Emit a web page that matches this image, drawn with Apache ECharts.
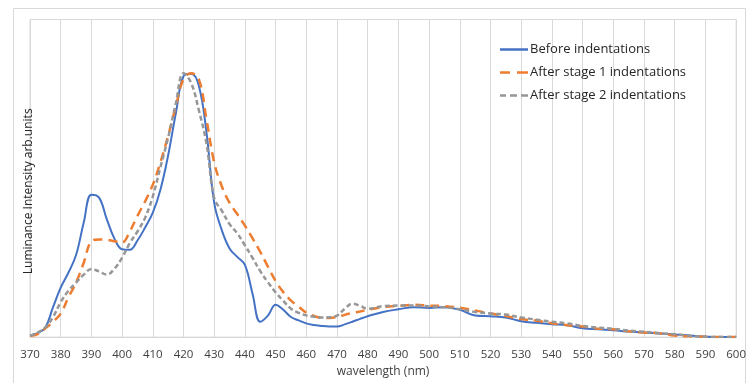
<!DOCTYPE html>
<html>
<head>
<meta charset="utf-8">
<script src="https://cdn.jsdelivr.net/npm/echarts@6/dist/echarts.min.js"></script>
<style>
html,body{margin:0;padding:0;background:#fff;}
#chart{width:749px;height:383px;}
</style>
</head>
<body>
<div id="chart"></div>
<script>
const wavelengths = [370,372.5,375,377.5,380,382.5,385,387.5,390,392.5,395,397.5,400,402.5,405,407.5,410,412.5,415,417.5,420,422.5,425,427.5,430,432.5,435,437.5,440,442.5,445,447.5,450,452.5,455,457.5,460,462.5,465,467.5,470,472.5,475,477.5,480,485,490,495,500,505,510,515,520,525,530,535,540,545,550,555,560,565,570,575,580,585,590,595,600];

const beforeIndent = [0.005,0.015,0.036,0.113,0.187,0.243,0.310,0.433,0.538,0.527,0.446,0.372,0.332,0.330,0.365,0.414,0.470,0.558,0.687,0.846,0.986,0.995,0.950,0.772,0.507,0.403,0.335,0.303,0.273,0.163,0.058,0.081,0.122,0.103,0.076,0.063,0.052,0.046,0.042,0.040,0.040,0.048,0.058,0.069,0.079,0.095,0.105,0.113,0.110,0.113,0.103,0.082,0.079,0.074,0.060,0.054,0.049,0.045,0.033,0.030,0.026,0.021,0.017,0.014,0.010,0.006,0.002,0.000,0.000];

const afterStage1 = [0.005,0.011,0.033,0.058,0.089,0.150,0.206,0.281,0.362,0.369,0.368,0.362,0.358,0.399,0.458,0.513,0.576,0.661,0.761,0.872,0.975,0.997,0.975,0.822,0.660,0.569,0.507,0.465,0.421,0.373,0.322,0.266,0.212,0.170,0.138,0.115,0.092,0.080,0.073,0.072,0.076,0.084,0.091,0.097,0.103,0.113,0.118,0.122,0.119,0.117,0.111,0.101,0.089,0.080,0.068,0.062,0.052,0.045,0.040,0.032,0.030,0.022,0.017,0.015,0.006,0.003,0.001,0.000,0.000];

const afterStage2 = [0.005,0.017,0.037,0.076,0.132,0.175,0.206,0.236,0.257,0.248,0.236,0.258,0.300,0.355,0.399,0.451,0.532,0.643,0.754,0.883,0.997,0.960,0.857,0.730,0.525,0.477,0.427,0.392,0.347,0.299,0.249,0.207,0.169,0.137,0.107,0.092,0.082,0.077,0.074,0.075,0.081,0.107,0.126,0.118,0.107,0.117,0.119,0.119,0.116,0.113,0.105,0.095,0.089,0.085,0.074,0.066,0.058,0.052,0.042,0.036,0.031,0.025,0.020,0.015,0.011,0.005,0.001,0.000,0.000];

const seriesNames = ['Before indentations','After stage 1 indentations','After stage 2 indentations'];
const xAxisTitle = 'wavelength (nm)';
const yAxisTitle = 'Luminance Intensity arb.units';

function pairs(vals){ return wavelengths.map((w,i)=>[w, vals[i]]); }

// legend icons: solid, long-dash, short-dash line samples
const legendIcons = [
  'path://M0,0L28,0L28,2.5L0,2.5Z',
  'path://M0,0L10,0L10,2.5L0,2.5Z M17,0L28,0L28,2.5L17,2.5Z',
  'path://M0,0L6,0L6,2.5L0,2.5Z M10,0L17,0L17,2.5L10,2.5Z M21,0L28,0L28,2.5L21,2.5Z'
];

const chart = echarts.init(document.getElementById('chart'), null, {renderer:'canvas'});
const font = '"Open Sans", "Liberation Sans", sans-serif';
chart.setOption({
  animation:false,
  backgroundColor:'#ffffff',
  graphic:[{
    type:'rect', silent:true, z:-10,
    shape:{x:13.5, y:8.5, width:732, height:390},
    style:{fill:'none', stroke:'#d9d9d9', lineWidth:1}
  }],
  grid:{left:30, right:11, top:19.5, bottom:39, show:true, borderColor:'#d9d9d9', borderWidth:1, backgroundColor:'transparent'},
  legend:{
    orient:'vertical', left:495, top:38, itemGap:10,
    itemWidth:28, itemHeight:2.5,
    textStyle:{fontFamily:font, fontSize:13, color:'#262626', padding:[0,0,0,-3]},
    data:seriesNames.map((n,i)=>({name:n, icon:legendIcons[i]}))
  },
  xAxis:{
    type:'value', min:370, max:600, interval:10,
    name:xAxisTitle, nameLocation:'middle', nameGap:27,
    nameTextStyle:{fontFamily:font, fontSize:12, color:'#404040'},
    axisLine:{show:true, lineStyle:{color:'#d9d9d9'}},
    axisTick:{show:false},
    axisLabel:{fontFamily:font, fontSize:11.5, color:'#404040', margin:12},
    splitLine:{show:true, lineStyle:{color:'#d9d9d9', width:1}}
  },
  yAxis:{
    type:'value', min:0, max:1.2,
    name:yAxisTitle, nameLocation:'middle', nameGap:-5, nameRotate:90,
    nameTextStyle:{fontFamily:font, fontSize:12, color:'#262626', padding:[0,26,0,0]},
    axisLine:{show:false}, axisTick:{show:false}, axisLabel:{show:false},
    splitLine:{show:false}
  },
  series:[
    {name:seriesNames[0], type:'line', data:pairs(beforeIndent), smooth:0.4, symbol:'none',
     lineStyle:{color:'#4472C4', width:2}, itemStyle:{color:'#4472C4'}},
    {name:seriesNames[1], type:'line', data:pairs(afterStage1), smooth:0.4, symbol:'none',
     lineStyle:{color:'#ED7D31', width:2.5, type:[9,6]}, itemStyle:{color:'#ED7D31'}},
    {name:seriesNames[2], type:'line', data:pairs(afterStage2), smooth:0.4, symbol:'none',
     lineStyle:{color:'#979797', width:2.5, type:[5,3]}, itemStyle:{color:'#979797'}}
  ]
});
</script>
</body>
</html>
